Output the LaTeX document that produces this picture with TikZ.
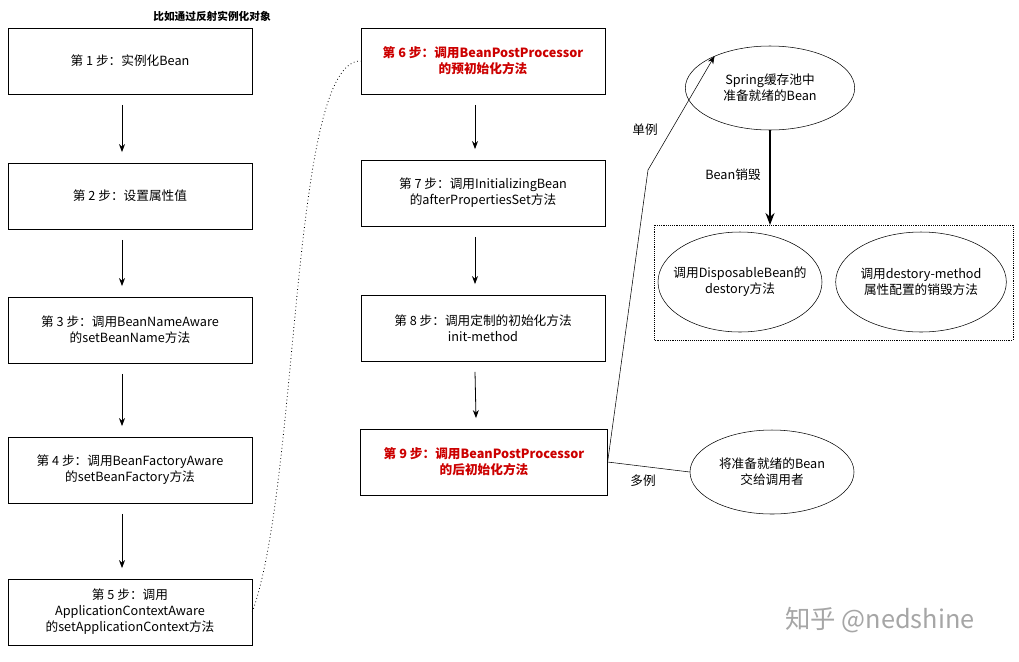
\documentclass[tikz,border=0pt]{standalone}
\usepackage{fontspec}
\setmainfont{Noto Sans CJK SC}
\usetikzlibrary{arrows.meta,shapes.geometric}
\begin{document}
\begin{tikzpicture}[x=0.75pt,y=-0.75pt,font=\fontsize{9.5}{12}\selectfont,
  stepbox/.style={draw,thin,minimum width=183pt,minimum height=49.5pt,align=center,inner sep=2pt},
  redtxt/.style={text=red!80!black,font=\fontsize{9.5}{12}\selectfont\bfseries},
  ell/.style={draw,ellipse,align=center,inner xsep=-8pt,inner ysep=0pt},
  arr/.style={-{Stealth[length=6pt]},semithick}]
\useasboundingbox (0,0) rectangle (1019,661);
\fill[white] (0,0) rectangle (1019,661);
\node[font=\fontsize{8}{10}\selectfont\bfseries] (top) at (212,16) {比如通过反射实例化对象};
\node[stepbox] (b1) at (130,61) {第 1 步：实例化Bean};
\node[stepbox] (b2) at (130,196) {第 2 步：设置属性值};
\node[stepbox] (b3) at (130,330) {第 3 步：调用BeanNameAware\\的setBeanName方法};
\node[stepbox] (b4) at (130,470) {第 4 步：调用BeanFactoryAware\\的setBeanFactory方法};
\node[stepbox] (b5) at (130,612) {第 5 步：调用\\ApplicationContextAware\\的setApplicationContext方法};
\node[stepbox,redtxt] (b6) at (483,61) {第 6 步：调用BeanPostProcessor\\的预初始化方法};
\node[stepbox] (b7) at (483,193) {第 7 步：调用InitializingBean\\的afterPropertiesSet方法};
\node[stepbox] (b8) at (483,328) {第 8 步：调用定制的初始化方法\\init-method};
\node[stepbox,redtxt,minimum width=185pt] (b9) at (484,462) {第 9 步：调用BeanPostProcessor\\的后初始化方法};
\foreach \a/\b in {b1/b2,b2/b3,b3/b4,b4/b5,b6/b7,b7/b8,b8/b9}
  \draw[arr] ([xshift=-6pt,yshift=-8pt]\a.south) -- ([xshift=-6pt,yshift=8pt]\b.north);
\draw[dotted,semithick] (b5.east) .. controls (300,480) and (290,60) .. (b6.west);
\node[ell,minimum width=127pt,minimum height=63pt] (e1) at (770,88) {Spring缓存池中\\准备就绪的Bean};
\draw[densely dotted] (654,225) rectangle (1013,340);
\node[ell,minimum width=123pt,minimum height=75pt] (e2) at (740,282) {调用DisposableBean的\\destory方法};
\node[ell,minimum width=128pt,minimum height=75pt] (e3) at (921,282) {调用destory-method\\属性配置的销毁方法};
\node[ell,minimum width=123pt,minimum height=63pt] (e4) at (772,472) {将准备就绪的Bean\\交给调用者};
\coordinate (dtop) at (770,225);
\draw[-{Stealth[length=9pt]},line width=2pt] (e1.south) -- (dtop);
\node (lx) at (733,175) {Bean销毁};
\coordinate (mid) at (648,170);
\draw[-{Stealth[length=6pt]}] (b9.east) -- (mid) -- (e1.150);
\node (l1) at (645,130) {单例};
\draw (b9.east) -- (e4.west);
\node (l2) at (643,481) {多例};
\node[text=gray!70,font=\fontsize{19}{22}\selectfont] (wm) at (880,620) {知乎 @nedshine};
\end{tikzpicture}
\end{document}
